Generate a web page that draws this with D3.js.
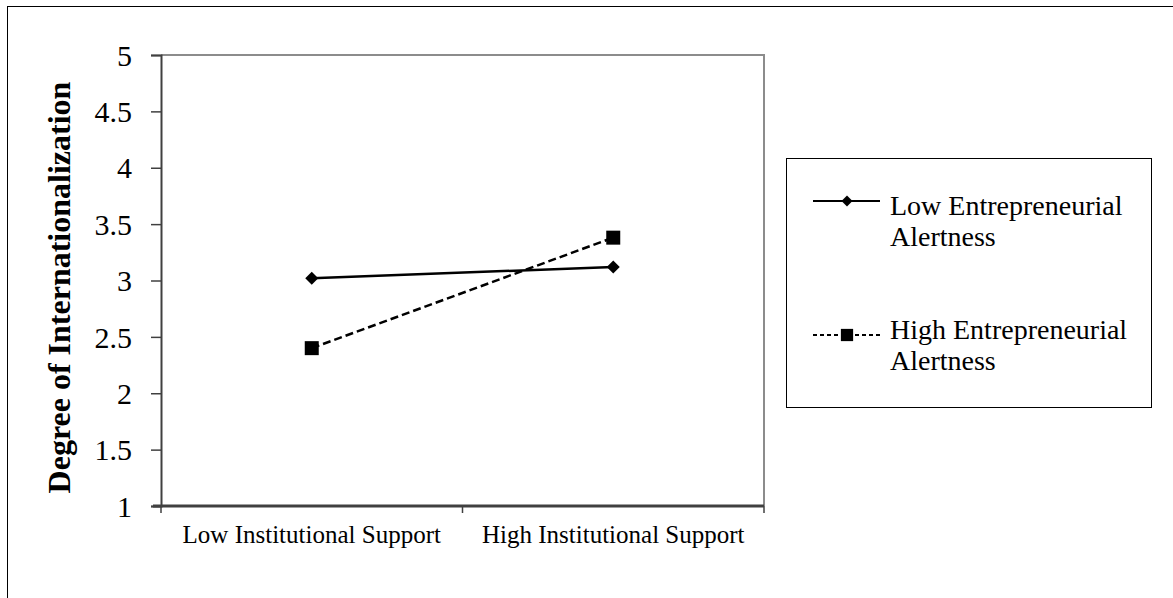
<!DOCTYPE html>
<html>
<head>
<meta charset="utf-8">
<script src="https://cdn.jsdelivr.net/npm/d3@7"></script>
<style>
  body { margin: 0; background: #fff; }
  text { font-family: "Liberation Serif", "Times New Roman", serif; fill: #000; }
</style>
</head>
<body>
<div id="chart"></div>
<script>
// Data
const categories = ["Low Institutional Support", "High Institutional Support"];
const seriesNames = ["Low Entrepreneurial Alertness", "High Entrepreneurial Alertness"];
const lowAlertness = [3.02, 3.12];
const highAlertness = [2.40, 3.38];
const yTicks = [1, 1.5, 2, 2.5, 3, 3.5, 4, 4.5, 5];

const W = 1173, H = 598;
const plot = { left: 161, top: 55, right: 764, bottom: 506 };

const svg = d3.select("#chart").append("svg")
    .attr("width", W)
    .attr("height", H);

// outer frame (runs off the bottom/right of the picture)
svg.append("rect")
    .attr("x", 7.5).attr("y", 6.5)
    .attr("width", W + 20).attr("height", H + 20)
    .attr("fill", "none").attr("stroke", "#000").attr("stroke-width", 1);

const x = d3.scaleBand()
    .domain(categories)
    .range([plot.left, plot.right]);

const y = d3.scaleLinear()
    .domain([1, 5])
    .range([plot.bottom, plot.top]);

// plot area border (top and right gray)
svg.append("path")
    .attr("d", `M${plot.left},${plot.top}H${plot.right}V${plot.bottom}`)
    .attr("fill", "none").attr("stroke", "#8c8c8c").attr("stroke-width", 2);

// y axis
const yAxis = svg.append("g")
    .attr("transform", `translate(${plot.left},0)`)
    .call(d3.axisLeft(y).tickValues(yTicks).tickFormat(d3.format("")).tickSize(10).tickPadding(19));
yAxis.select(".domain").attr("stroke", "#404040").attr("stroke-width", 2);
yAxis.selectAll(".tick line").attr("stroke", "#404040").attr("stroke-width", 1.5);
yAxis.selectAll("text")
    .style("font-family", "'Liberation Serif', serif")
    .style("font-size", "30px")
    .attr("dy", "0.34em")
    .attr("fill", "#000");

// x axis with tick marks at band edges
const xAxisG = svg.append("g")
    .attr("transform", `translate(0,${plot.bottom})`);
xAxisG.append("line")
    .attr("x1", plot.left - 8).attr("x2", plot.right)
    .attr("stroke", "#404040").attr("stroke-width", 3);
const edges = [x.range()[0], ...categories.map(c => x(c) + x.bandwidth())];
xAxisG.selectAll("line.tk")
    .data(edges)
    .enter().append("line")
    .attr("class", "tk")
    .attr("x1", d => d).attr("x2", d => d)
    .attr("y1", 0).attr("y2", 7)
    .attr("stroke", "#404040").attr("stroke-width", 1.5);
xAxisG.selectAll("text")
    .data(categories)
    .enter().append("text")
    .attr("x", d => x(d) + x.bandwidth() / 2)
    .attr("y", 37)
    .attr("text-anchor", "middle")
    .style("font-size", "25px")
    .text(d => d);

// y axis title
svg.append("text")
    .attr("transform", `translate(70,${(plot.top + plot.bottom) / 2 + 7}) rotate(-90)`)
    .attr("text-anchor", "middle")
    .style("font-size", "32px")
    .style("font-weight", "bold")
    .text("Degree of Internationalization");

const cx = d => x(d) + x.bandwidth() / 2;
const line = d3.line()
    .x((d, i) => cx(categories[i]))
    .y(d => y(d));

// diamond = square rotated 45 degrees
const diamondPath = s => d3.symbol().type(d3.symbolSquare).size(s)();

// series lines
svg.append("path")
    .datum(lowAlertness)
    .attr("d", line)
    .attr("fill", "none").attr("stroke", "#000").attr("stroke-width", 2.5);

svg.append("path")
    .datum(highAlertness)
    .attr("d", line)
    .attr("fill", "none").attr("stroke", "#000").attr("stroke-width", 2.5)
    .attr("stroke-dasharray", "8,4");

svg.selectAll("path.low-pt")
    .data(lowAlertness)
    .enter().append("path")
    .attr("class", "low-pt")
    .attr("transform", (d, i) => `translate(${cx(categories[i])},${y(d)}) rotate(45)`)
    .attr("d", diamondPath(85))
    .attr("fill", "#000");

svg.selectAll("path.high-pt")
    .data(highAlertness)
    .enter().append("path")
    .attr("class", "high-pt")
    .attr("transform", (d, i) => `translate(${cx(categories[i])},${y(d)})`)
    .attr("d", d3.symbol().type(d3.symbolSquare).size(196)())
    .attr("fill", "#000");

// legend
const legend = svg.append("g");
legend.append("rect")
    .attr("x", 786.5).attr("y", 158.5)
    .attr("width", 365).attr("height", 249)
    .attr("fill", "#fff").attr("stroke", "#000").attr("stroke-width", 1);

const legendRows = [
    { name: seriesNames[0], y: 201, base: 215, dash: null, d: diamondPath(60), rot: 45 },
    { name: seriesNames[1], y: 335, base: 339, dash: "4,3", d: d3.symbol().type(d3.symbolSquare).size(150)(), rot: 0 }
];
legendRows.forEach(r => {
    legend.append("line")
        .attr("x1", 813).attr("x2", 880)
        .attr("y1", r.y).attr("y2", r.y)
        .attr("stroke", "#000").attr("stroke-width", 2)
        .attr("stroke-dasharray", r.dash);
    legend.append("path")
        .attr("transform", `translate(847,${r.y}) rotate(${r.rot})`)
        .attr("d", r.d)
        .attr("fill", "#000");
    const words = r.name.split(" ");
    const t = legend.append("text")
        .attr("x", 890).attr("y", r.base)
        .style("font-size", "28px");
    t.append("tspan").attr("x", 890).text(words.slice(0, 2).join(" "));
    t.append("tspan").attr("x", 890).attr("dy", 31).text(words.slice(2).join(" "));
});
</script>
</body>
</html>
